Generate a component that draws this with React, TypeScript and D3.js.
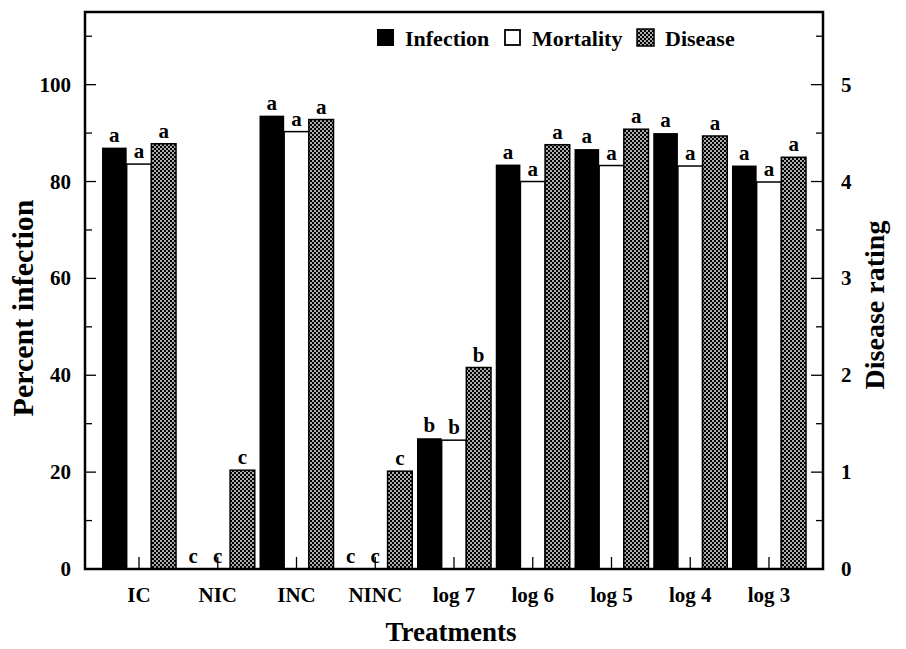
import React from "react";
import * as d3 from "d3";

// treatments on the x axis
const categories = ["IC", "NIC", "INC", "NINC", "log 7", "log 6", "log 5", "log 4", "log 3"];

// percent (left axis)
const infection = [87.0, 0, 93.6, 0, 27.0, 83.5, 86.7, 90.0, 83.3];
const mortality = [83.6, 0, 90.3, 0, 26.6, 80.0, 83.3, 83.2, 79.9];
// disease rating (right axis)
const disease = [4.39, 1.02, 4.64, 1.01, 2.08, 4.38, 4.54, 4.47, 4.25];

// significance letters
const infectionLetters = ["a", "c", "a", "c", "b", "a", "a", "a", "a"];
const mortalityLetters = ["a", "c", "a", "c", "b", "a", "a", "a", "a"];
const diseaseLetters = ["a", "c", "a", "c", "b", "a", "a", "a", "a"];

const leftTicks = [0, 20, 40, 60, 80, 100];
const leftMinor = [10, 30, 50, 70, 90, 110];
const rightTicks = [0, 1, 2, 3, 4, 5];
const rightMinor = [0.5, 1.5, 2.5, 3.5, 4.5, 5.5];

const seriesNames = ["Infection", "Mortality", "Disease"];

const FONT = "'Liberation Serif', 'Times New Roman', serif";

const App: React.FC = () => {
  const width = 906;
  const height = 649;
  const m = { left: 85, right: 823, top: 12, bottom: 569 };

  const x = d3
    .scaleBand<string>()
    .domain(categories)
    .range([m.left, m.right])
    .paddingInner(0)
    .paddingOuter(0.186);
  const groupW = 74;
  const xs = d3.scaleBand<string>().domain(seriesNames).range([0, groupW]).padding(0);
  const yL = d3.scaleLinear().domain([0, 115]).range([m.bottom, m.top]);
  const yR = d3.scaleLinear().domain([0, 5.75]).range([m.bottom, m.top]);

  const gx = (c: string) => (x(c) as number) + (x.bandwidth() - groupW) / 2;
  const bw = xs.bandwidth();

  const letter = (cx: number, top: number, t: string, k: string) => (
    <text key={k} x={cx} y={top - 6} textAnchor="middle" fontSize={21} fontWeight="bold">
      {t}
    </text>
  );

  return (
    <svg
      width={width}
      height={height}
      style={{ position: "absolute", left: 0, top: 0, background: "#fff" }}
      fontFamily={FONT}
    >
      <defs>
        <pattern id="dots" width={4} height={4} patternUnits="userSpaceOnUse">
          <rect width={4} height={4} fill="#000" />
          <circle cx={1} cy={1} r={0.9} fill="#fff" />
          <circle cx={3} cy={3} r={0.9} fill="#fff" />
        </pattern>
      </defs>

      {/* bars */}
      {categories.map((c, i) => {
        const g = gx(c);
        const xi = g + (xs("Infection") as number);
        const xm = g + (xs("Mortality") as number);
        const xd = g + (xs("Disease") as number);
        return (
          <g key={c}>
            <rect x={xi} y={yL(infection[i])} width={bw} height={yL(0) - yL(infection[i])} fill="#000" />
            <rect
              x={xm}
              y={yL(mortality[i])}
              width={bw}
              height={yL(0) - yL(mortality[i])}
              fill="#fff"
              stroke="#000"
              strokeWidth={1.5}
            />
            <rect
              x={xd}
              y={yR(disease[i])}
              width={bw}
              height={yR(0) - yR(disease[i])}
              fill="url(#dots)"
              stroke="#000"
              strokeWidth={1.5}
            />
            {letter(xi + bw / 2, yL(infection[i]), infectionLetters[i], "li" + i)}
            {letter(xm + bw / 2, yL(mortality[i]), mortalityLetters[i], "lm" + i)}
            {letter(xd + bw / 2, yR(disease[i]), diseaseLetters[i], "ld" + i)}
            {/* small inward tick at the group centre */}
            <line
              x1={g + groupW / 2}
              x2={g + groupW / 2}
              y1={m.bottom}
              y2={m.bottom - 12}
              stroke="#000"
              strokeWidth={1.3}
            />
            <text
              x={g + groupW / 2}
              y={602}
              textAnchor="middle"
              fontSize={21}
              fontWeight="bold"
            >
              {c}
            </text>
          </g>
        );
      })}

      {/* frame */}
      <rect
        x={m.left}
        y={m.top}
        width={m.right - m.left}
        height={m.bottom - m.top}
        fill="none"
        stroke="#000"
        strokeWidth={2.5}
      />

      {/* left axis */}
      {leftTicks.map((t) => (
        <g key={"l" + t}>
          <line x1={m.left} x2={m.left + 11} y1={yL(t)} y2={yL(t)} stroke="#000" strokeWidth={1.3} />
          <text x={m.left - 14} y={yL(t) + 7} textAnchor="end" fontSize={21} fontWeight="bold">
            {t}
          </text>
        </g>
      ))}
      {leftMinor.map((t) => (
        <line key={"lm" + t} x1={m.left} x2={m.left + 7} y1={yL(t)} y2={yL(t)} stroke="#000" strokeWidth={1.3} />
      ))}

      {/* right axis */}
      {rightTicks.map((t) => (
        <g key={"r" + t}>
          <line x1={m.right} x2={m.right - 12} y1={yR(t)} y2={yR(t)} stroke="#000" strokeWidth={1.3} />
          <text x={m.right + 18} y={yR(t) + 7} textAnchor="start" fontSize={21} fontWeight="bold">
            {t}
          </text>
        </g>
      ))}
      {rightMinor.map((t) => (
        <line key={"rm" + t} x1={m.right} x2={m.right - 7} y1={yR(t)} y2={yR(t)} stroke="#000" strokeWidth={1.3} />
      ))}

      {/* axis titles */}
      <text
        transform={`translate(33, 308) rotate(-90)`}
        textAnchor="middle"
        fontSize={30}
        fontWeight="bold"
      >
        Percent infection
      </text>
      <text
        transform={`translate(884, 305) rotate(-90)`}
        textAnchor="middle"
        fontSize={28}
        fontWeight="bold"
      >
        Disease rating
      </text>
      <text x={451} y={641} textAnchor="middle" fontSize={27} fontWeight="bold">
        Treatments
      </text>

      {/* legend */}
      <g fontSize={22} fontWeight="bold">
        <rect x={377} y={29} width={17} height={17} fill="#000" />
        <text x={405} y={46}>Infection</text>
        <rect x={505} y={30} width={15} height={15} fill="#fff" stroke="#000" strokeWidth={1.8} />
        <text x={532} y={46}>Mortality</text>
        <rect x={637} y={29} width={17} height={17} fill="url(#dots)" stroke="#000" strokeWidth={1.5} />
        <text x={665} y={46}>Disease</text>
      </g>
    </svg>
  );
};

export default App;
